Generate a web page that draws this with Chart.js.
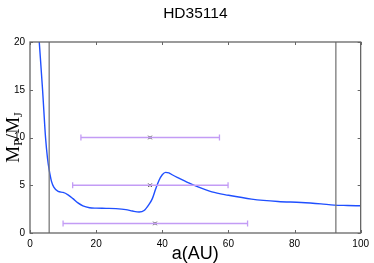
<!DOCTYPE html>
<html>
<head>
<meta charset="utf-8">
<script src="https://cdn.jsdelivr.net/npm/chart.js@4.4.0/dist/chart.umd.min.js"></script>
<style>
  html, body { margin: 0; padding: 0; background: #fff; }
  #wrap { width: 374px; height: 263px; }
</style>
</head>
<body>
<div id="wrap"><canvas id="chart" width="374" height="263"></canvas></div>
<script>
// Datos del gráfico
const titulo = 'HD35114';
const xTicks = [0, 20, 40, 60, 80, 100];
const yTicks = [0, 5, 10, 15, 20];

// Curva de masa límite
const curvaA = [2.8, 3.8, 4.7, 5.3, 5.8, 6.5, 7.2, 8.5, 10, 11.5, 13, 14.5, 16, 18, 20, 23, 26, 29, 31, 33, 34.5, 36, 37, 38, 39, 40, 41, 42, 43, 45, 48, 51, 55, 60, 67, 75, 82, 88, 92, 96, 100];
const curvaM = [20, 15, 10, 7.8, 6.6, 5.4, 4.8, 4.35, 4.25, 4.0, 3.6, 3.15, 2.85, 2.65, 2.6, 2.58, 2.55, 2.45, 2.3, 2.2, 2.35, 3.0, 3.6, 4.6, 5.5, 6.1, 6.35, 6.3, 6.1, 5.75, 5.25, 4.8, 4.3, 3.95, 3.55, 3.3, 3.2, 3.05, 2.92, 2.88, 2.85];

// Líneas verticales
const lineasV = [5.8, 92.5];

// Barras de error (centro, min, max, masa)
const errCentro = [36.3, 36.3, 37.8];
const errMin = [15.4, 12.9, 10.0];
const errMax = [57.3, 59.9, 65.8];
const errMasa = [10, 5, 1];

const datasets = [];

lineasV.forEach(a => {
    datasets.push({
        data: [{ x: a, y: 0 }, { x: a, y: 20 }],
        borderColor: '#7a7a7a',
        borderWidth: 1.3,
        pointRadius: 0,
        showLine: true
    });
});

errMasa.forEach((m, i) => {
    datasets.push({
        data: [{ x: errMin[i], y: m }, { x: errMax[i], y: m }],
        borderColor: '#c39cf5',
        borderWidth: 1.5,
        pointStyle: 'line',
        rotation: 90,
        pointRadius: 3,
        pointBorderColor: '#c39cf5',
        pointBorderWidth: 1.3,
        showLine: true
    });
    datasets.push({
        data: [{ x: errCentro[i], y: m }],
        pointStyle: 'crossRot',
        pointRadius: 2.5,
        pointBorderColor: '#333',
        pointBorderWidth: 1,
        showLine: false
    });
});

datasets.push({
    data: curvaA.map((a, i) => ({ x: a, y: curvaM[i] })),
    borderColor: '#1f4fff',
    borderWidth: 1.4,
    pointRadius: 0,
    cubicInterpolationMode: 'monotone',
    showLine: true
});

// Plugin: marco, ticks hacia dentro, títulos
const decoracion = {
    id: 'decoracion',
    afterDraw(chart) {
        const { ctx, chartArea: ca, scales } = chart;
        const sx = scales.x, sy = scales.y;
        ctx.save();
        ctx.strokeStyle = '#666';
        ctx.lineWidth = 1.3;
        ctx.strokeRect(ca.left, ca.top, ca.right - ca.left, ca.bottom - ca.top);
        ctx.lineWidth = 1;
        ctx.beginPath();
        xTicks.forEach(v => {
            const px = Math.round(sx.getPixelForValue(v)) + 0.5;
            ctx.moveTo(px, ca.bottom); ctx.lineTo(px, ca.bottom - 3);
            ctx.moveTo(px, ca.top); ctx.lineTo(px, ca.top + 3);
        });
        yTicks.forEach(v => {
            const py = Math.round(sy.getPixelForValue(v)) + 0.5;
            ctx.moveTo(ca.left, py); ctx.lineTo(ca.left + 3, py);
            ctx.moveTo(ca.right, py); ctx.lineTo(ca.right - 3, py);
        });
        ctx.stroke();

        // Título
        ctx.fillStyle = '#000';
        ctx.font = '15.5px "Liberation Sans", Arial, sans-serif';
        ctx.textAlign = 'center';
        ctx.textBaseline = 'middle';
        ctx.fillText(titulo, (ca.left + ca.right) / 2, 14);

        // Etiqueta eje X
        ctx.font = '18px "Liberation Sans", Arial, sans-serif';
        ctx.fillText('a(AU)', (ca.left + ca.right) / 2, 254);

        // Etiqueta eje Y con subíndices
        ctx.translate(13, (ca.top + ca.bottom) / 2);
        ctx.rotate(-Math.PI / 2);
        ctx.textAlign = 'left';
        ctx.textBaseline = 'alphabetic';
        const grande = '19px "Liberation Serif", "Times New Roman", serif';
        const chico = '12px "Liberation Serif", "Times New Roman", serif';
        const partes = [['M', grande, 0], ['P', chico, 3], ['/M', grande, 0], ['J', chico, 3]];
        let ancho = 0;
        partes.forEach(p => { ctx.font = p[1]; ancho += ctx.measureText(p[0]).width; });
        let x = -ancho / 2;
        partes.forEach(p => {
            ctx.font = p[1];
            ctx.fillText(p[0], x, 6 + p[2]);
            x += ctx.measureText(p[0]).width;
        });
        ctx.restore();
    }
};

new Chart(document.getElementById('chart'), {
    type: 'scatter',
    data: { datasets },
    options: {
        responsive: false,
        animation: false,
        layout: { padding: { left: 0, top: 42, right: 11, bottom: 0 } },
        plugins: { legend: { display: false }, tooltip: { enabled: false } },
        scales: {
            x: {
                type: 'linear', min: 0, max: 100,
                afterFit: s => { s.height = 30; },
                afterBuildTicks: s => { s.ticks = xTicks.map(v => ({ value: v })); },
                grid: { display: false, drawTicks: false },
                border: { display: false },
                ticks: { color: '#000', font: { size: 10, family: '"Liberation Sans", Arial' }, padding: 5, maxRotation: 0 }
            },
            y: {
                type: 'linear', min: 0, max: 20,
                afterFit: s => { s.width = 30; },
                afterBuildTicks: s => { s.ticks = yTicks.map(v => ({ value: v })); },
                grid: { display: false, drawTicks: false },
                border: { display: false },
                ticks: { color: '#000', font: { size: 10, family: '"Liberation Sans", Arial' }, padding: 5 }
            }
        }
    },
    plugins: [decoracion]
});
</script>
</body>
</html>
